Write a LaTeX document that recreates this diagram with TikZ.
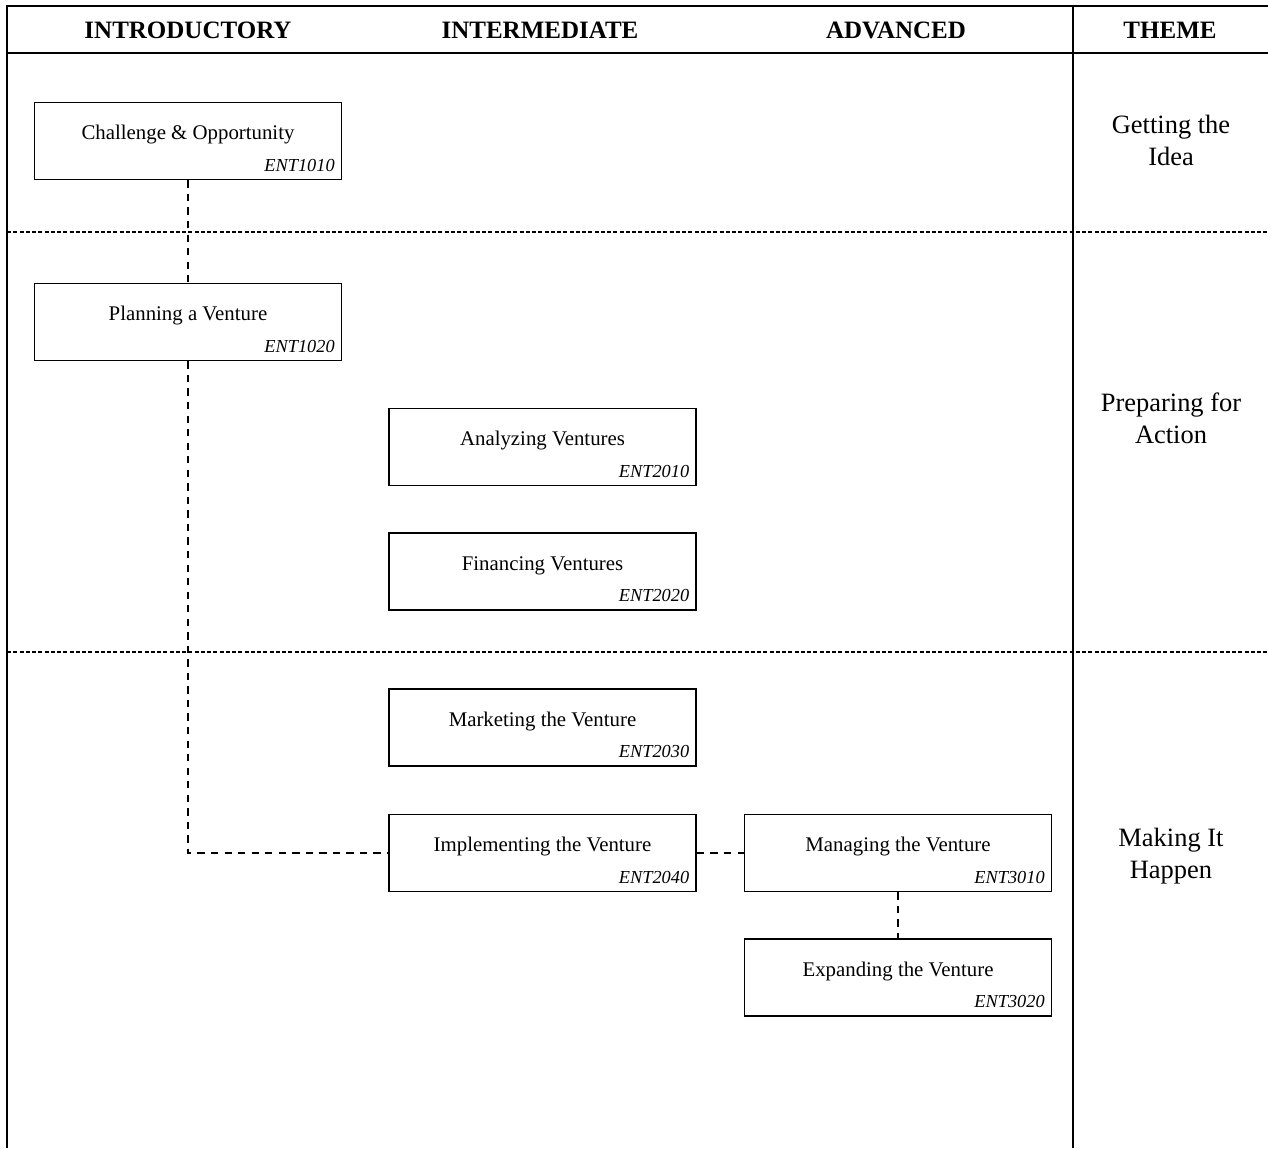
\documentclass[tikz,border=0pt]{standalone}
\usepackage{fontspec}
\setmainfont{Liberation Serif}
\tikzset{
  frame/.style={line width=1pt},
  rowsep/.style={line width=0.7pt, dash pattern=on 2pt off 1pt},
  link/.style={line width=0.9pt, dash pattern=on 3.5pt off 3pt},
  course/.style={draw, line width=0.8pt, minimum width=147.4pt, minimum height=37pt,
    inner sep=0pt, text height=7pt, text depth=8pt, font=\fontsize{10}{12}\selectfont,
    label={[anchor=south east, inner xsep=3.5pt, inner ysep=4pt,
      font=\fontsize{8.8}{10}\selectfont\itshape]south east:#1}},
  head/.style={font=\fontsize{12}{14}\selectfont\bfseries},
  theme/.style={align=center, font=\fontsize{12.7}{15.4}\selectfont}
}
\begin{document}
\begin{tikzpicture}[x=0.48pt,y=-0.48pt]
        \useasboundingbox (0,0) rectangle (1268,1148);
        %% Frame and rows
        \draw[frame] (7,1148) -- (7,6) -- (1268,6);
        \draw[frame] (7,53) -- (1268,53);
        \draw[frame] (1073,6) -- (1073,1148);
        \foreach \y in {232,652} {
            \draw[rowsep] (7,\y) -- (1268,\y);
        }
        %% Column heads
        \node[head] (intro) at (188,30) {INTRODUCTORY};
        \node[head] (inter) at (540,30) {INTERMEDIATE};
        \node[head] (adv) at (896,30) {ADVANCED};
        \node[head] (thm) at (1170,30) {THEME};
        %% Themes
        \node[theme] (idea) at (1171,140) {Getting the\\Idea};
        \node[theme] (prep) at (1171,418) {Preparing for\\Action};
        \node[theme] (make) at (1171,856) {Making It\\Happen};
        %% Courses
        \node[course=ENT1010] (challenge) at (188,141) {Challenge \& Opportunity};
        \node[course=ENT1020] (planning) at (188,322) {Planning a Venture};
        \node[course=ENT2010] (analyzing) at (542.5,447) {Analyzing Ventures};
        \node[course=ENT2020] (financing) at (542.5,571.5) {Financing Ventures};
        \node[course=ENT2030] (marketing) at (542.5,727.5) {Marketing the Venture};
        \node[course=ENT2040] (implementing) at (542.5,853) {Implementing the Venture};
        \node[course=ENT3010] (managing) at (898,853) {Managing the Venture};
        \node[course=ENT3020] (expanding) at (898,977.5) {Expanding the Venture};
        %% Links
        \draw[link] (challenge) -- (planning);
        \draw[link] (planning.south) |- (implementing.west);
        \draw[link] (implementing) -- (managing);
        \draw[link] (managing) -- (expanding);
\end{tikzpicture}
\end{document}
